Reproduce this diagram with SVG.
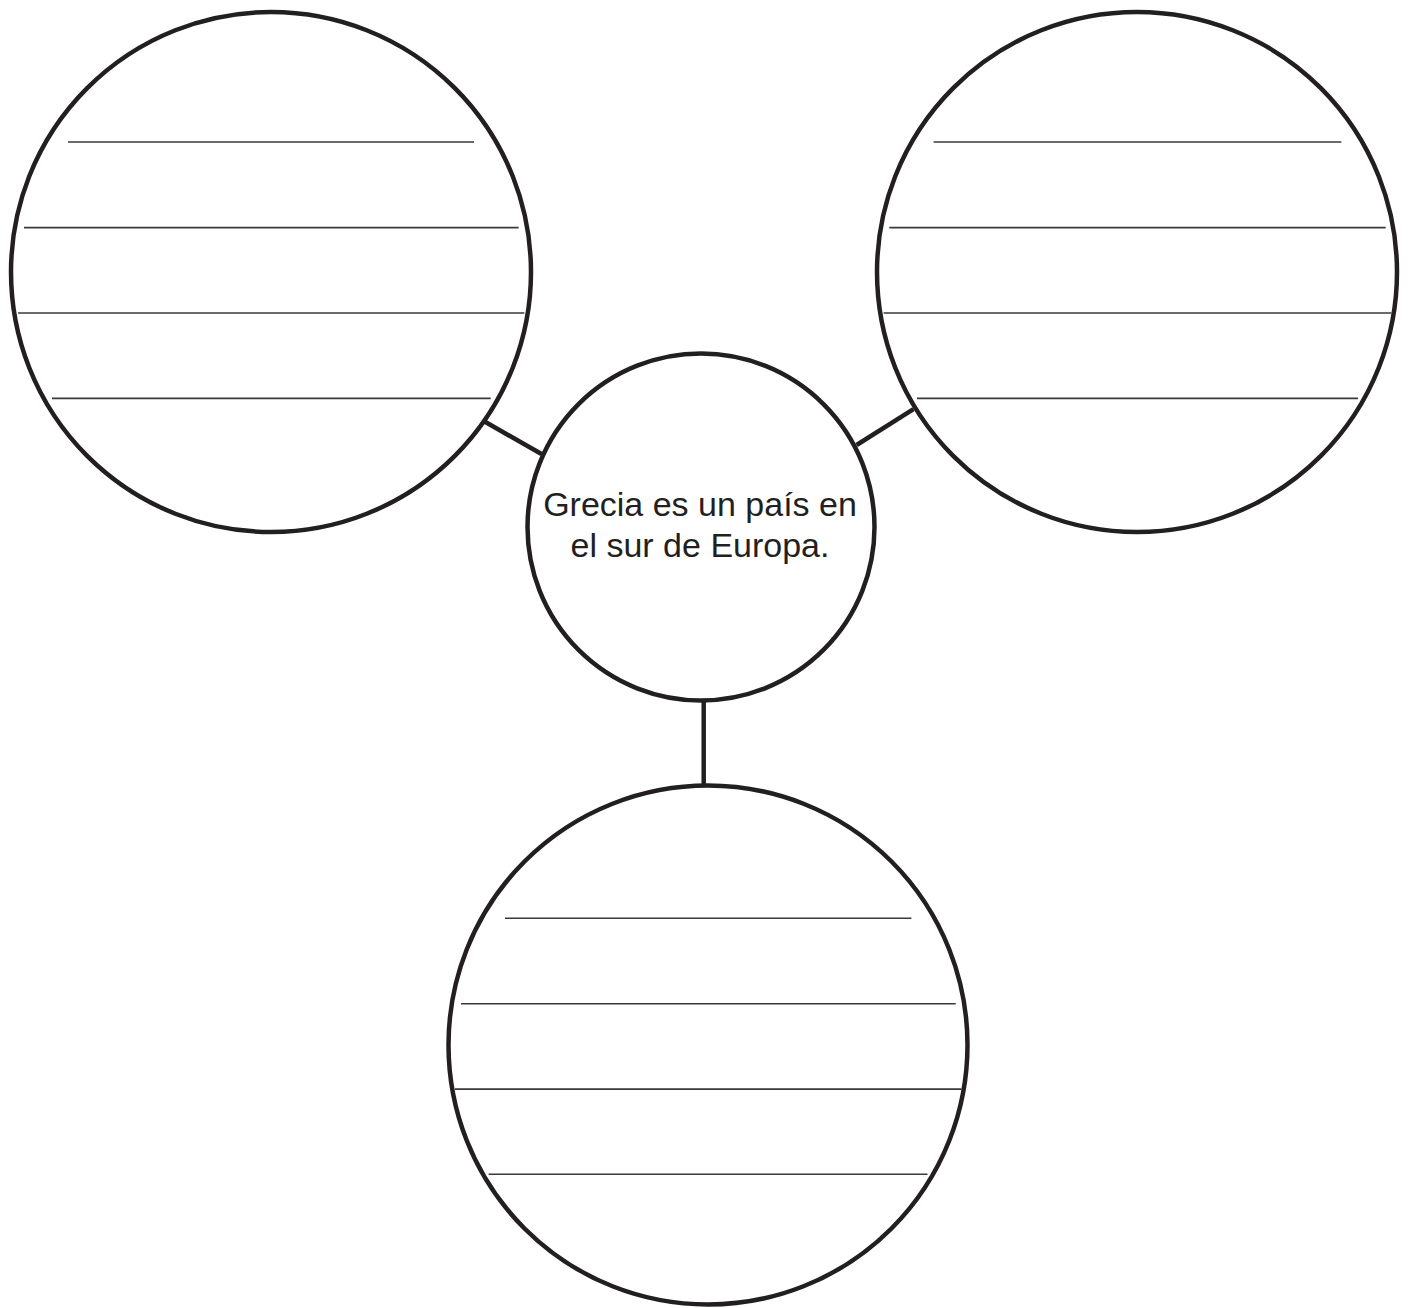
<svg xmlns="http://www.w3.org/2000/svg" width="1408" height="1308" viewBox="0 0 1408 1308">
<style>
.bubble{fill:#fff;stroke:#231f20;stroke-width:4.5}
.rule{stroke:#3a3839;stroke-width:1.6}
.conn{stroke:#231f20;stroke-width:4.5;fill:none}
.label{font-family:"Liberation Sans",Arial,sans-serif;font-size:34px;fill:#231f20;text-anchor:middle}
</style>
<rect width="1408" height="1308" fill="#fff"/>
<g id="connectors">
<line class="conn" x1="485" y1="421.8" x2="541.5" y2="454"/>
<line class="conn" x1="913.5" y1="409.2" x2="856.6" y2="445"/>
<line class="conn" x1="703.7" y1="700" x2="703.7" y2="786"/>
</g>
<g id="node-top-left">
<circle class="bubble" cx="271" cy="272" r="260"/>
<line class="rule" x1="68" y1="142" x2="474" y2="142"/>
<line class="rule" x1="24" y1="227.6" x2="518.6" y2="227.6"/>
<line class="rule" x1="18" y1="313" x2="524.3" y2="313"/>
<line class="rule" x1="52" y1="398.4" x2="490.7" y2="398.4"/>
</g>
<g id="node-top-right">
<circle class="bubble" cx="1137" cy="272" r="260"/>
<line class="rule" x1="933.6" y1="142" x2="1341.4" y2="142"/>
<line class="rule" x1="889.3" y1="227.6" x2="1385.7" y2="227.6"/>
<line class="rule" x1="883.6" y1="313" x2="1391.4" y2="313"/>
<line class="rule" x1="917" y1="398.4" x2="1358" y2="398.4"/>
</g>
<g id="node-center">
<circle class="bubble" cx="701" cy="527" r="173.5"/>
<text class="label" x="700" y="515.7">Grecia es un país en</text>
<text class="label" x="700" y="556.7">el sur de Europa.</text>
</g>
<g id="node-bottom">
<circle class="bubble" cx="708" cy="1045" r="259.5"/>
<line class="rule" x1="505" y1="918.2" x2="911.4" y2="918.2"/>
<line class="rule" x1="461" y1="1003.7" x2="955.7" y2="1003.7"/>
<line class="rule" x1="455" y1="1089.1" x2="961.4" y2="1089.1"/>
<line class="rule" x1="488.6" y1="1174.3" x2="927.5" y2="1174.3"/>
</g>
</svg>
